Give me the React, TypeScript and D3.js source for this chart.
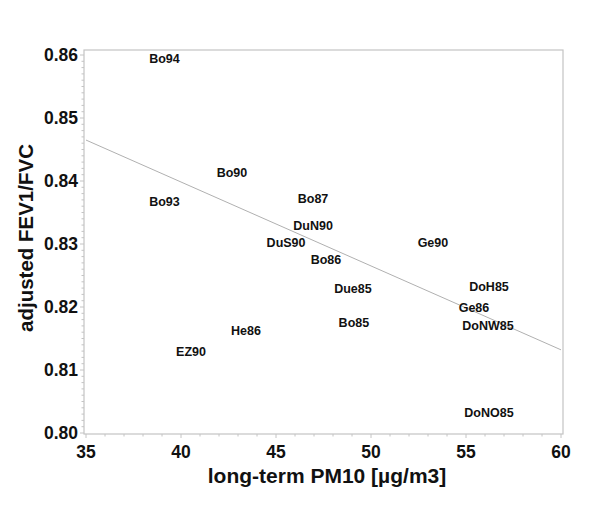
import React from "react";
import * as d3 from "d3";

const labels = ["Bo94", "Bo90", "Bo93", "Bo87", "DuN90", "DuS90", "Bo86", "Due85", "Bo85", "He86", "EZ90", "Ge90", "DoH85", "Ge86", "DoNW85", "DoNO85"];
const pm10 = [39.13, 42.68, 39.13, 46.95, 46.95, 45.53, 47.63, 49.05, 49.1, 43.42, 40.53, 53.26, 56.21, 55.42, 56.16, 56.21];
const fevRatio = [0.8595, 0.8413, 0.8368, 0.8373, 0.833, 0.8302, 0.8276, 0.8229, 0.8175, 0.8162, 0.8129, 0.8302, 0.8232, 0.82, 0.8171, 0.8033];
const fitX = [35, 60];
const fitY = [0.8465, 0.8132];
const xTicks = [35, 40, 45, 50, 55, 60];
const yTicks = [0.8, 0.81, 0.82, 0.83, 0.84, 0.85, 0.86];

const W = 600;
const H = 520;
const frame = { left: 84, right: 563, top: 50, bottom: 434 };
const FONT = "'Liberation Sans', Arial, Helvetica, sans-serif";
const GRAY = "#c4c4c4";

export default function App() {
  const x = d3.scaleLinear().domain([35, 60]).range([86, 561]);
  const y = d3.scaleLinear().domain([0.8, 0.86]).range([433, 55]);
  const minorX = d3.range(35, 60.001, 1);
  const minorY = d3.range(0, 61).map((i) => 0.8 + i * 0.001);
  const line = d3
    .line<number>()
    .x((_, i) => x(fitX[i]))
    .y((d) => y(d));

  return (
    <svg
      width={W}
      height={H}
      style={{ position: "absolute", left: 0, top: 0, background: "#fff" }}
      fontFamily={FONT}
    >
      <rect x={0} y={0} width={W} height={H} fill="#fff" />
      {/* frame */}
      <rect
        x={frame.left}
        y={frame.top}
        width={frame.right - frame.left}
        height={frame.bottom - frame.top}
        fill="none"
        stroke={GRAY}
        strokeWidth={1.2}
      />
      {/* x ticks */}
      {minorX.map((v) => (
        <line key={"mx" + v} x1={x(v)} x2={x(v)} y1={frame.bottom} y2={frame.bottom + (v % 5 === 0 ? 4 : 2.5)} stroke={GRAY} strokeWidth={1} />
      ))}
      {minorY.map((v, i) => (
        <line key={"my" + i} x1={frame.left} x2={frame.left - (i % 10 === 0 ? 4 : 2.5)} y1={y(v)} y2={y(v)} stroke={GRAY} strokeWidth={1} />
      ))}
      {xTicks.map((v) => (
        <text key={"xt" + v} x={x(v)} y={458} textAnchor="middle" fontSize={17.5} fontWeight="bold" fill="#111">
          {v}
        </text>
      ))}
      {yTicks.map((v) => (
        <text key={"yt" + v} x={78} y={y(v)} dy="0.36em" textAnchor="end" fontSize={17.5} fontWeight="bold" fill="#111">
          {d3.format(".2f")(v)}
        </text>
      ))}
      {/* regression line */}
      <path d={line(fitY) || ""} fill="none" stroke="#b0b0b0" strokeWidth={1} />
      {/* point labels */}
      {labels.map((l, i) => (
        <text key={l} x={x(pm10[i])} y={y(fevRatio[i])} dy="0.36em" textAnchor="middle" fontSize={12.5} fontWeight="bold" fill="#111">
          {l}
        </text>
      ))}
      {/* axis titles */}
      <text x={327} y={483} textAnchor="middle" fontSize={21} fontWeight="bold" fill="#111">
        long-term PM10 [µg/m3]
      </text>
      <text transform={`translate(33,238) rotate(-90)`} textAnchor="middle" fontSize={20.5} fontWeight="bold" fill="#111">
        adjusted FEV1/FVC
      </text>
    </svg>
  );
}
